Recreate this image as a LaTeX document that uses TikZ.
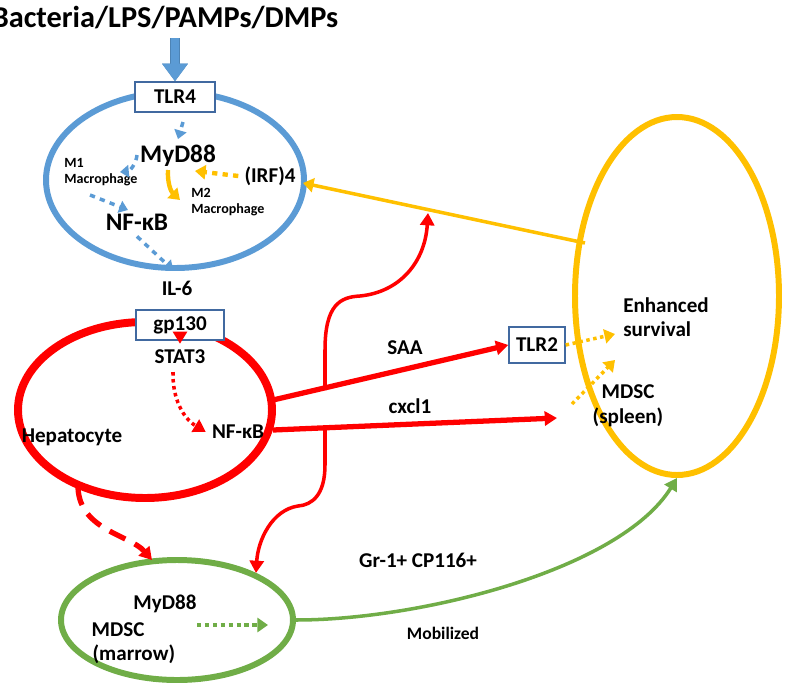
\documentclass[tikz,border=0pt]{standalone}
\usepackage{fontspec}
\setmainfont{Carlito}
\usetikzlibrary{arrows.meta, shapes.geometric}
\definecolor{cblue}{RGB}{91,155,213}
\definecolor{cred}{RGB}{255,0,0}
\definecolor{cyel}{RGB}{255,192,0}
\definecolor{cgreen}{RGB}{112,173,71}
\definecolor{cbox}{RGB}{65,105,160}
\begin{document}
\begin{tikzpicture}[x=0.02cm, y=-0.02cm, font=\bfseries\large,
		box/.style={draw=cbox, thick, fill=white, minimum width=#1, minimum height=30*0.02cm, font=\bfseries\large},
		cell/.style={ellipse, draw, line width=#1},
		lbl/.style={align=left, inner sep=1pt},
		small/.style={align=left, font=\bfseries\footnotesize, inner sep=0pt},
		>={Triangle[length=7pt, width=8pt]}]
		\useasboundingbox (0,0) rectangle (785,690);

		% cells
		\node[cell=6*0.567pt, draw=cblue, minimum width=258*0.02cm, minimum height=176*0.02cm]	(macro) at (175,180) {};
		\node[cell=8*0.567pt, draw=cred, minimum width=254*0.02cm, minimum height=176*0.02cm]	(hep) at (145,410) {};
		\node[cell=6*0.567pt, draw=cyel, minimum width=204*0.02cm, minimum height=358*0.02cm]	(spleen) at (677,296) {};
		\node[cell=6*0.567pt, draw=cgreen, minimum width=232*0.02cm, minimum height=120*0.02cm]	(marrow) at (177,620) {};

		% texts
		\node[font=\bfseries\LARGE]							(bact) at (165,18) {Bacteria/LPS/PAMPs/DMPs};
		\node[box=80*0.02cm]								(tlr4) at (175,97) {TLR4};
		\node[box=88*0.02cm]								(gp130) at (180,325) {gp130};
		\node[box=56*0.02cm, minimum height=36*0.02cm]		(tlr2) at (537,345) {TLR2};
		\node[font=\bfseries\Large]							(myd) at (178,156) {MyD88};
		\node[small, anchor=west]							(m1) at (64,172) {M1\\Macrophage};
		\node[small, anchor=west]							(m2) at (191,202) {M2\\Macrophage};
		\node										(irf) at (270,176) {(IRF)4};
		\node[font=\bfseries\Large]							(nfa) at (137,222) {NF-κB};
		\node										(il6) at (177,288) {IL-6};
		\node										(stat) at (180,357) {STAT3};
		\node										(nfb) at (238,432) {NF-κB};
		\node										(hepl) at (72,437) {Hepatocyte};
		\node										(saa) at (405,348) {SAA};
		\node										(cxcl) at (410,406) {cxcl1};
		\node[lbl]									(surv) at (666,317) {Enhanced\\survival};
		\node[align=center]							(mdscs) at (628,406) {MDSC\\(spleen)};
		\node										(mydm) at (165,604) {MyD88};
		\node[align=center]							(mdscm) at (118,643) {MDSC\\\phantom{MD}(marrow)};
		\node										(gr) at (418,560) {Gr-1+ CP116+};
		\node[font=\bfseries]							(mob) at (443,633) {Mobilized};

		% points
		\coordinate (a1) at (175,38);
		\coordinate (hs) at (273,400);
		\coordinate (hc) at (273,430);
		\coordinate (ya) at (303,183);
		\coordinate (yb) at (585,243);
		\coordinate (br) at (325,390);
		\coordinate (bc) at (325,430);
		\coordinate (bu) at (428,213);
		\coordinate (bd) at (256,573);

		% blue
		\draw[-{Triangle[length=10pt, width=14pt]}, line width=5.5pt, cblue!85!black]	(a1) -- (tlr4.north);
		\draw[-{Triangle[length=10pt, width=14pt]}, line width=4pt, cblue]	(a1) -- (tlr4.north);
		\begin{scope}[cblue, line width=2pt, dashed, >={Triangle[length=5pt, width=7pt]}]
			\draw[->]	(183,122) -- (myd.north);
			\draw[->]	(137,155) to[bend left=40] (120,172);
			\draw[->]	(90,195) -- (128,210);
			\draw[->]	(nfa.south) -- (173,270);
		\end{scope}
		\begin{scope}[cyel, line width=2.5pt, >={Triangle[length=6pt, width=8pt]}]
			\draw[->]	(168,170) to[bend right=25] (180,200);
			\draw[->, dashed]	(irf.west) -- (195,171);
			\draw[->, line width=2pt]	(yb) -- (ya);
			\draw[->, dotted, line width=2pt]	(tlr2.east) -- (615,334);
			\draw[->, dotted, line width=2pt]	(572,404) -- (615,360);
		\end{scope}

		% red
		\begin{scope}[cred, line width=2pt, >={Triangle[length=7pt, width=8pt]}]
			\draw[->, dotted]	(gp130.south) -- (stat.north);
			\draw[->, dotted]	(173,372) to[bend right=30] (nfb.west);
			\draw[->, line width=3pt]	(hs) -- (tlr2.west);
			\draw[->, line width=3pt]	(hc) -- (557,418);
			\draw[->]	(br) -- (325,350) .. controls (325,305) and (340,297) .. (360,296) .. controls (400,292) and (425,262) .. (bu);
			\draw[->]	(bc) -- (325,465) .. controls (325,495) and (312,505) .. (298,506) .. controls (272,510) and (258,540) .. (bd);
			\draw[->, dashed, line width=3pt, dash pattern=on 10pt off 6pt]	(78,488) .. controls (80,530) and (130,535) .. (152,560);
		\end{scope}

		% green
		\draw[->, dotted, cgreen, line width=2.5pt, >={Triangle[length=6pt, width=8pt]}]	(197,625) -- (268,625);
		\draw[->, cgreen, line width=2pt, >={Triangle[length=7pt, width=8pt]}]	(marrow.east) .. controls (420,620) and (620,570) .. (spleen.south);
\end{tikzpicture}
\end{document}
